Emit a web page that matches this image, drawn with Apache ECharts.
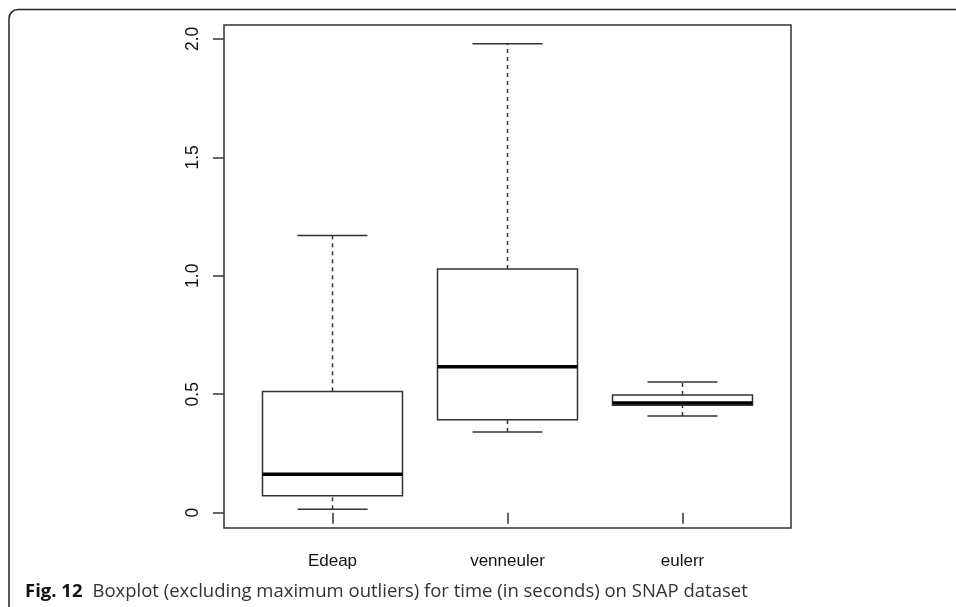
<!DOCTYPE html>
<html>
<head>
<meta charset="utf-8">
<script src="https://cdn.jsdelivr.net/npm/echarts@6/dist/echarts.min.js"></script>
<style>
html,body{margin:0;padding:0;background:#fff;}
#c{width:956px;height:607px;}
</style>
</head>
<body>
<div id="c"></div>
<script>
// ---- data ----
const categories = ['Edeap', 'venneuler', 'eulerr'];
const whiskerLow  = [0.014, 0.341, 0.408];
const quartile1   = [0.072, 0.392, 0.454];
const medians     = [0.162, 0.616, 0.463];
const quartile3   = [0.512, 1.029, 0.497];
const whiskerHigh = [1.170, 1.980, 0.552];
const yTicks = [0, 0.5, 1.0, 1.5, 2.0];
const yTickLabels = ['0', '0.5', '1.0', '1.5', '2.0'];
const captionBold = 'Fig. 12';
const captionText = 'Boxplot (excluding maximum outliers) for time (in seconds) on SNAP dataset';

const xPositions = categories.map((c, i) => i + 1);
const boxData = categories.map((c, i) => [xPositions[i], whiskerLow[i], quartile1[i], medians[i], quartile3[i], whiskerHigh[i]]);

// R-style axis extension (4%)
const lo = Math.min(...whiskerLow), hi = Math.max(...whiskerHigh);
const pad = (hi - lo) * 0.04;
const xPad = (categories.length) * 0.04;

const lineCol = '#333';

function renderItem(params, api) {
  const x = api.value(0);
  const vMin = api.value(1), q1 = api.value(2), med = api.value(3), q3 = api.value(4), vMax = api.value(5);
  const c = api.coord([x, 0])[0];
  const halfBox = api.size([0.4, 0])[0];
  const halfCap = api.size([0.2, 0])[0];
  const y = v => api.coord([x, v])[1];
  const ls = {stroke: lineCol, lineWidth: 1.5, fill: null};
  return {
    type: 'group',
    children: [
      {type: 'line', shape: {x1: c, y1: y(q3), x2: c, y2: y(vMax)}, style: Object.assign({}, ls, {lineDash: [4, 4]})},
      {type: 'line', shape: {x1: c, y1: y(vMin), x2: c, y2: y(q1)}, style: Object.assign({}, ls, {lineDash: [4, 4]})},
      {type: 'line', shape: {x1: c - halfCap, y1: y(vMax), x2: c + halfCap, y2: y(vMax)}, style: ls},
      {type: 'line', shape: {x1: c - halfCap, y1: y(vMin), x2: c + halfCap, y2: y(vMin)}, style: ls},
      {type: 'rect', shape: {x: c - halfBox, y: y(q3), width: 2 * halfBox, height: y(q1) - y(q3)}, style: {stroke: lineCol, lineWidth: 1.5, fill: '#fff'}},
      {type: 'line', shape: {x1: c - halfBox, y1: y(med), x2: c + halfBox, y2: y(med)}, style: {stroke: '#000', lineWidth: 3.5}}
    ]
  };
}

const chart = echarts.init(document.getElementById('c'), null, {renderer: 'canvas'});
chart.setOption({
  animation: false,
  backgroundColor: '#fff',
  title: {
    left: 20, top: 577,
    text: '{b|' + captionBold + '}  {r|' + captionText + '}',
    textStyle: {
      fontWeight: 'normal',
      rich: {
        b: {fontFamily: 'Open Sans', fontWeight: 'bold', fontSize: 18.5, color: '#111'},
        r: {fontFamily: 'Open Sans', fontWeight: 'normal', fontSize: 18.5, color: '#333'}
      }
    }
  },
  graphic: [{
    type: 'rect', silent: true,
    shape: {x: 9, y: 9.5, width: 1200, height: 900, r: [9, 0, 0, 0]},
    style: {fill: null, stroke: '#222', lineWidth: 1.5}
  }],
  grid: {left: 224, top: 25, width: 567, height: 503, show: true, borderColor: lineCol, borderWidth: 1.5, backgroundColor: 'transparent'},
  xAxis: {
    type: 'value', min: 1 - 0.5 - xPad, max: categories.length + 0.5 + xPad,
    axisLine: {show: false}, splitLine: {show: false},
    axisTick: {show: true, customValues: xPositions, length: 11, lineStyle: {color: lineCol, width: 1.5}},
    axisLabel: {customValues: xPositions, formatter: v => categories[Math.round(v) - 1], margin: 25,
      fontFamily: 'Liberation Sans', fontSize: 17, color: '#111'}
  },
  yAxis: {
    type: 'value', min: lo - pad, max: hi + pad,
    axisLine: {show: false}, splitLine: {show: false},
    axisTick: {show: true, customValues: yTicks, length: 11, lineStyle: {color: lineCol, width: 1.5}},
    axisLabel: {customValues: yTicks, rotate: 90, margin: 22,
      formatter: v => { const i = yTicks.findIndex(t => Math.abs(t - v) < 1e-9); return i >= 0 ? yTickLabels[i] : ''; },
      fontFamily: 'Liberation Sans', fontSize: 17.5, color: '#111'}
  },
  series: [{
    type: 'custom', renderItem: renderItem, data: boxData,
    encode: {x: 0, y: [1, 2, 3, 4, 5]}, clip: false
  }]
});
</script>
</body>
</html>
